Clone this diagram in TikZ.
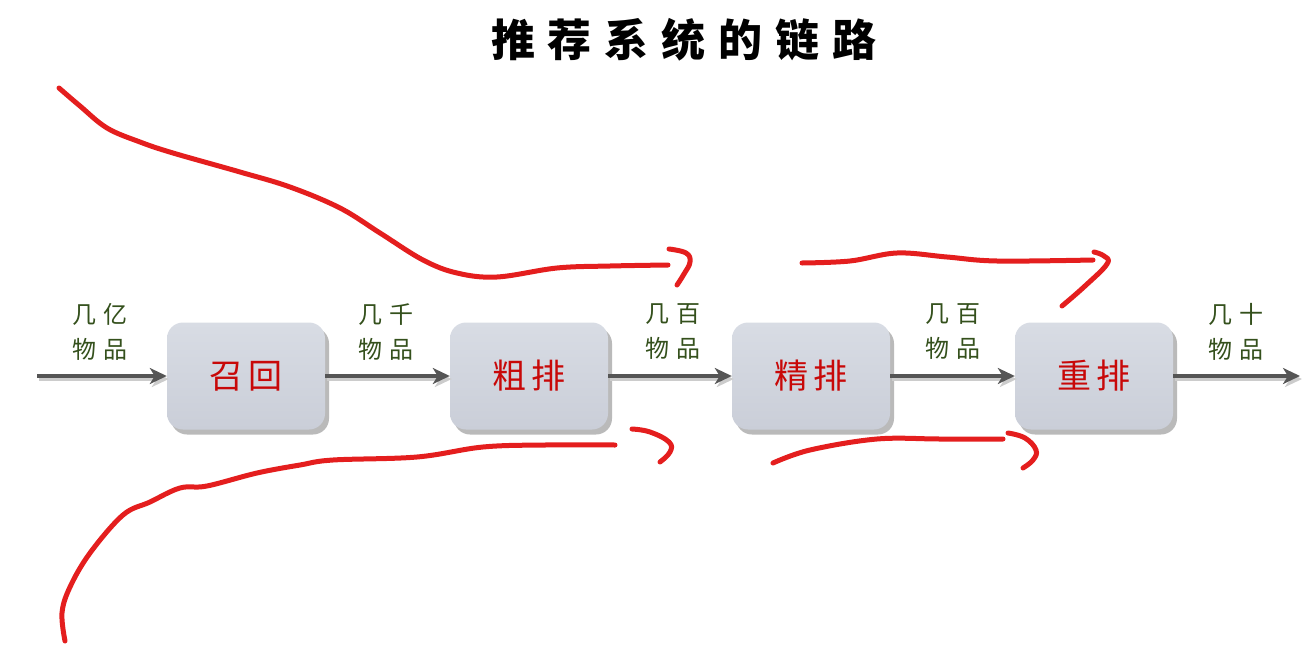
\documentclass[tikz,border=0pt]{standalone}
\usepackage{fontspec}
\newfontfamily\cjk{Noto Sans CJK SC}
\usetikzlibrary{arrows.meta,shadows}
\definecolor{boxtop}{HTML}{D8DCE4}
\definecolor{boxbot}{HTML}{CACED8}
\definecolor{boxred}{HTML}{C80808}
\definecolor{lblgreen}{HTML}{34501C}
\definecolor{arrgray}{HTML}{555555}
\definecolor{pen}{HTML}{E41E1E}
\tikzset{
  stagebox/.style={rounded corners=16pt, minimum width=158pt, minimum height=107pt,
    top color=boxtop, bottom color=boxbot, draw=none,
    drop shadow={shadow xshift=4pt, shadow yshift=-5pt, fill=black!45, opacity=0.6},
    font=\cjk\fontsize{34}{38}\selectfont, text=boxred, inner sep=0pt},
  flow/.style={draw=arrgray, line width=3.4pt, -{Stealth[length=17pt,width=16pt,inset=5pt]},
    preaction={draw=black!20, line width=3.4pt, transform canvas={xshift=2pt,yshift=-3pt}}},
  qty/.style={font=\cjk\fontsize{24}{35}\selectfont, text=lblgreen, align=center, inner sep=0pt},
  ink/.style={draw=pen, line width=5pt, line cap=round, line join=round}
}
\begin{document}
\begin{tikzpicture}[x=1pt,y=-1pt]
\useasboundingbox (0,0) rectangle (1306,645);
\node[font=\cjk\bfseries\fontsize{44}{48}\selectfont, inner sep=0pt] (title) at (684,40) {推\hspace{13pt}荐\hspace{13pt}系\hspace{13pt}统\hspace{13pt}的\hspace{13pt}链\hspace{13pt}路};
\node[stagebox] (recall) at (246,376) {召\hspace{6pt}回};
\node[stagebox] (pre) at (529,376) {粗\hspace{6pt}排};
\node[stagebox] (rank) at (811,376) {精\hspace{6pt}排};
\node[stagebox] (rerank) at (1094,376) {重\hspace{6pt}排};
\coordinate (in) at (37,376);
\coordinate (out) at (1300,376);
\draw[flow] (in) -- (recall.west);
\draw[flow] (recall.east) -- (pre.west);
\draw[flow] (pre.east) -- (rank.west);
\draw[flow] (rank.east) -- (rerank.west);
\draw[flow] (rerank.east) -- (out);
\node[qty] (q1) at (100,332) {几\hspace{7pt}亿\\物\hspace{7pt}品};
\node[qty] (q2) at (386,332) {几\hspace{7pt}千\\物\hspace{7pt}品};
\node[qty] (q3) at (673,332) {几\hspace{7pt}百\\物\hspace{7pt}品};
\node[qty] (q4) at (953,332) {几\hspace{7pt}百\\物\hspace{7pt}品};
\node[qty] (q5) at (1236,332) {几\hspace{7pt}十\\物\hspace{7pt}品};
% hand-drawn red strokes
\draw[ink] plot[smooth, tension=0.6] coordinates {(59,88) (80,106) (107,128) (140,142) (173,153) (240,172) (290,187) (340,208) (380,233) (423,260) (457,273) (497,277) (557,268) (610,266) (668,265)};
\draw[ink] plot[smooth, tension=0.7] coordinates {(669,249) (686,253) (690,262) (684,274) (677,285)};
\draw[ink] plot[smooth, tension=0.6] coordinates {(802,263) (850,261) (897,253) (947,257) (997,261) (1093,260)};
\draw[ink] plot[smooth, tension=0.7] coordinates {(1094,252) (1104,256) (1107,264) (1085,286) (1062,306)};
\draw[ink] plot[smooth, tension=0.6] coordinates {(65,641) (62,613) (70,587) (90,553) (123,515) (150,502) (180,488) (207,486) (257,473) (300,465) (333,460) (417,457) (483,447) (545,445) (615,445)};
\draw[ink] plot[smooth, tension=0.7] coordinates {(632,429) (650,432) (669,442) (670,452) (660,462)};
\draw[ink] plot[smooth, tension=0.6] coordinates {(773,463) (810,450) (877,439) (940,439) (1003,439)};
\draw[ink] plot[smooth, tension=0.7] coordinates {(1008,433) (1025,438) (1036,450) (1033,460) (1023,468)};
\end{tikzpicture}
\end{document}
